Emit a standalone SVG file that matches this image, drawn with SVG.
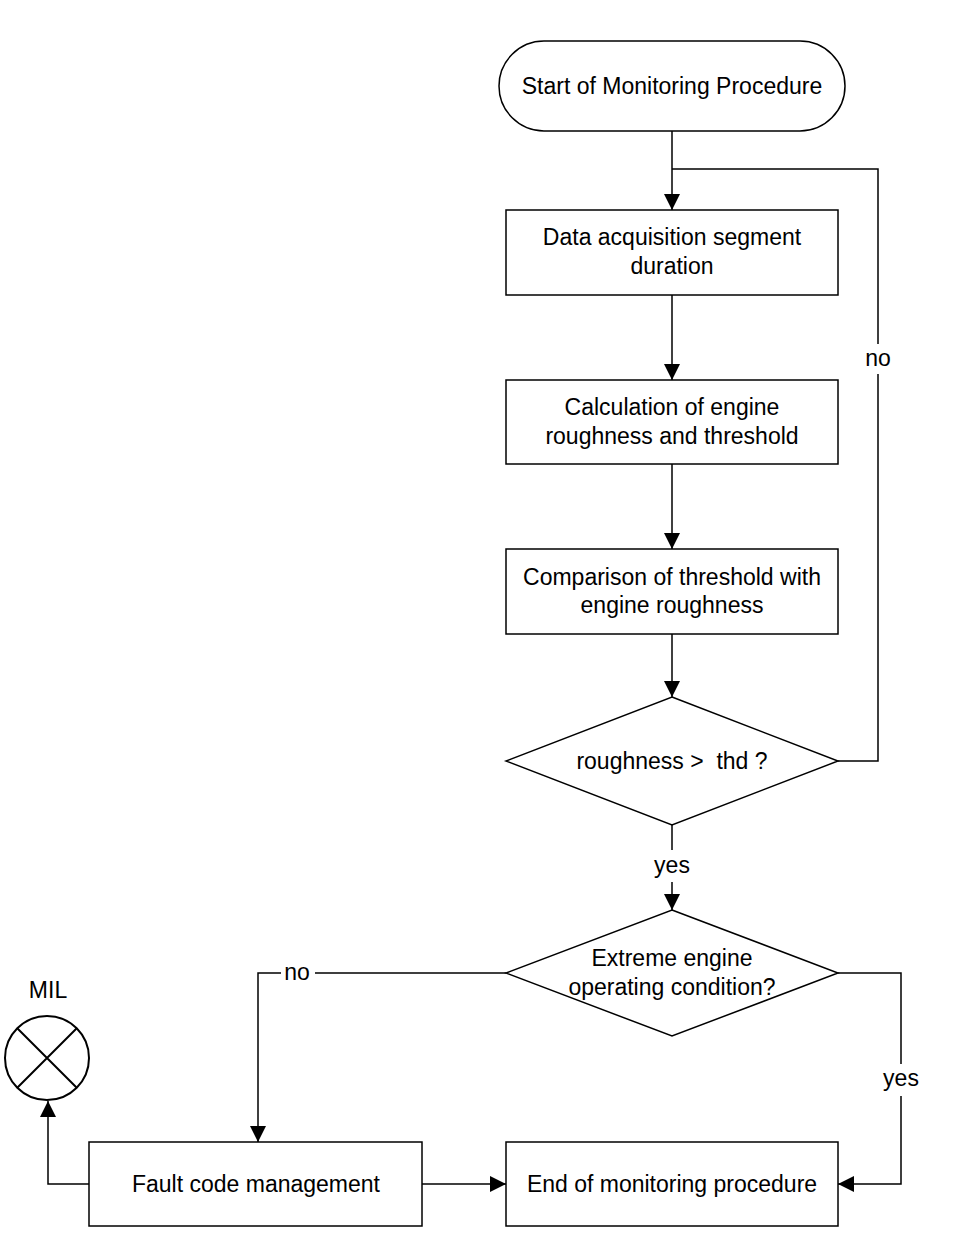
<svg xmlns="http://www.w3.org/2000/svg" width="960" height="1242" viewBox="0 0 960 1242">
<defs>
<style>
.n{fill:#fff;stroke:#000;stroke-width:1.5}
.t{font-family:"Liberation Sans",Arial,sans-serif;font-size:23px;fill:#000;text-anchor:middle}
.c{fill:none;stroke:#000;stroke-width:1.5}
.lb{fill:#fff;stroke:none}
</style>
<marker id="ah" viewBox="0 0 16 16" refX="16" refY="8" markerWidth="16" markerHeight="16" markerUnits="userSpaceOnUse" orient="auto">
<path d="M0,0 L16,8 L0,16 Z" fill="#000"/>
</marker>
</defs>
<rect width="960" height="1242" fill="#fff"/>
<g id="connectors">
<path class="c" d="M672,131 V169"/>
<path class="c" d="M672,169 V210" marker-end="url(#ah)" stroke-width="2"/>
<path class="c" d="M672,295 V380" marker-end="url(#ah)"/>
<path class="c" d="M672,464 V549" marker-end="url(#ah)"/>
<path class="c" d="M672,634 V697" marker-end="url(#ah)"/>
<path class="c" d="M838,761 H878 V169 H672"/>
<rect class="lb" x="860" y="344" width="36" height="30"/>
<text class="t" x="878" y="366">no</text>
<path class="c" d="M672,825 V910" marker-end="url(#ah)"/>
<rect class="lb" x="650" y="850" width="44" height="32"/>
<text class="t" x="672" y="873">yes</text>
<path class="c" d="M506,973 H258 V1142" marker-end="url(#ah)"/>
<rect class="lb" x="281" y="961" width="34" height="26"/>
<text class="t" x="297" y="980">no</text>
<path class="c" d="M838,973 H901 V1184 H838" marker-end="url(#ah)"/>
<rect class="lb" x="879" y="1064" width="44" height="32"/>
<text class="t" x="901" y="1086">yes</text>
<path class="c" d="M422,1184 H506" marker-end="url(#ah)"/>
<path class="c" d="M89,1184 H48 V1101" marker-end="url(#ah)"/>
</g>
<g id="start">
<rect class="n" x="499" y="41" width="346" height="90" rx="45" ry="45"/>
<text class="t" x="672" y="94">Start of Monitoring Procedure</text>
</g>
<g id="data">
<rect class="n" x="506" y="210" width="332" height="85"/>
<text class="t" x="672" y="245">Data acquisition segment</text>
<text class="t" x="672" y="274">duration</text>
</g>
<g id="calc">
<rect class="n" x="506" y="380" width="332" height="84"/>
<text class="t" x="672" y="415">Calculation of engine</text>
<text class="t" x="672" y="444">roughness and threshold</text>
</g>
<g id="compare">
<rect class="n" x="506" y="549" width="332" height="85"/>
<text class="t" x="672" y="585">Comparison of threshold with</text>
<text class="t" x="672" y="613">engine roughness</text>
</g>
<g id="dec1">
<polygon class="n" points="672,697 838,761 672,825 506,761"/>
<text class="t" x="672" y="769" xml:space="preserve">roughness &gt;  thd ?</text>
</g>
<g id="dec2">
<polygon class="n" points="672,910 838,973 672,1036 506,973"/>
<text class="t" x="672" y="966">Extreme engine</text>
<text class="t" x="672" y="995">operating condition?</text>
</g>
<g id="fault">
<rect class="n" x="89" y="1142" width="333" height="84"/>
<text class="t" x="256" y="1192">Fault code management</text>
</g>
<g id="end">
<rect class="n" x="506" y="1142" width="332" height="84"/>
<text class="t" x="672" y="1192">End of monitoring procedure</text>
</g>
<g id="mil">
<circle cx="47" cy="1058" r="42" fill="#fff" stroke="#000" stroke-width="2"/>
<path d="M17,1028 L77,1088 M77,1028 L17,1088" stroke="#000" stroke-width="2"/>
<text class="t" x="48" y="998">MIL</text>
</g>
</svg>
